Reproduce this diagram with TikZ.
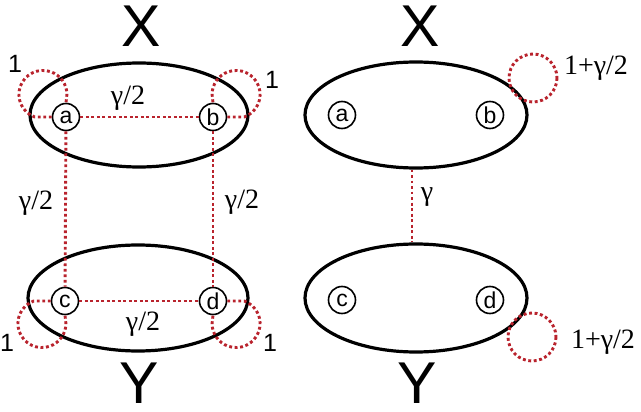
\documentclass[tikz,border=0pt]{standalone}
\usepackage{fontspec}
\setmainfont{Liberation Serif}
\newfontfamily\sansf{Liberation Sans}
\usetikzlibrary{shapes.geometric}
\definecolor{loopred}{RGB}{185,35,45}
\tikzset{
 grp/.style={ellipse, draw, line width=3.2pt, inner sep=0pt},
 vtx/.style={circle, draw, line width=1.6pt, minimum size=27pt, inner sep=0pt, fill=white, font=\sansf\fontsize{23}{23}\selectfont},
 big/.style={font=\sansf\fontsize{59}{59}\selectfont, inner sep=0pt},
 one/.style={font=\sansf\fontsize{25}{25}\selectfont, inner sep=0pt},
 wt/.style={font=\rmfamily\fontsize{28}{28}\selectfont, inner sep=0pt},
 dotline/.style={draw=loopred, line width=2.9pt, dash pattern=on 2.9pt off 2.6pt},
}
\begin{document}
\begin{tikzpicture}[x=1pt,y=-1pt]
\useasboundingbox (0,0) rectangle (641,412);
% left diagram
\node[grp, minimum width=218pt, minimum height=104pt] (X1) at (139,115) {};
\node[grp, minimum width=220pt, minimum height=106pt] (Y1) at (138,298) {};
\node[vtx] (a) at (66,117) {a};
\node[vtx] (b) at (213,117) {b};
\node[vtx] (c) at (65,301) {c};
\node[vtx] (d) at (213,301) {d};
\draw[dotline] (a) -- (b);
\draw[dotline] (c) -- (d);
\draw[dotline] (a) -- (c);
\draw[dotline] (b) -- (d);
\draw[dotline] (a.west) -- ++(-17,0) arc[start angle=110, end angle=360, radius=24] -- (a.north);
\draw[dotline] (b.east) -- ++(17,0) arc[start angle=70, end angle=-180, radius=24] -- (b.north);
\draw[dotline] (c.west) -- ++(-17,0) arc[start angle=250, end angle=0, radius=24] -- (c.south);
\draw[dotline] (d.east) -- ++(17,0) arc[start angle=-70, end angle=180, radius=24] -- (d.south);
\node[big] (lX1) at (141,26) {X};
\node[big] (lY1) at (139,383) {Y};
\node[one] (o1) at (15,64) {1};
\node[one] (o2) at (272,80) {1};
\node[one] (o3) at (7,343) {1};
\node[one] (o4) at (270,343) {1};
\node[wt] (wab) at (128,98) {γ/2};
\node[wt] (wcd) at (143,324) {γ/2};
\node[wt] (wac) at (36,203) {γ/2};
\node[wt] (wbd) at (242,202) {γ/2};
% right diagram
\node[grp, minimum width=222pt, minimum height=106pt] (X2) at (416,115) {};
\node[grp, minimum width=222pt, minimum height=108pt] (Y2) at (416,298) {};
\node[vtx] (a2) at (342,115) {a};
\node[vtx] (b2) at (490,115) {b};
\node[vtx] (c2) at (342,300) {c};
\node[vtx] (d2) at (490,300) {d};
\draw[dotline] ([xshift=-4pt]X2.south) -- ([xshift=-4pt]Y2.north);
\coordinate (lx) at (533,78);
\coordinate (ly) at (532,337);
\draw[dotline] (lx) circle[radius=24];
\draw[dotline] (ly) circle[radius=24];
\node[big] (lX2) at (420,26) {X};
\node[big] (lY2) at (417,383) {Y};
\node[wt] (wxy) at (427,197) {γ};
\node[wt] (wx) at (596,68) {1+γ/2};
\node[wt] (wy) at (603,342) {1+γ/2};
\end{tikzpicture}
\end{document}
